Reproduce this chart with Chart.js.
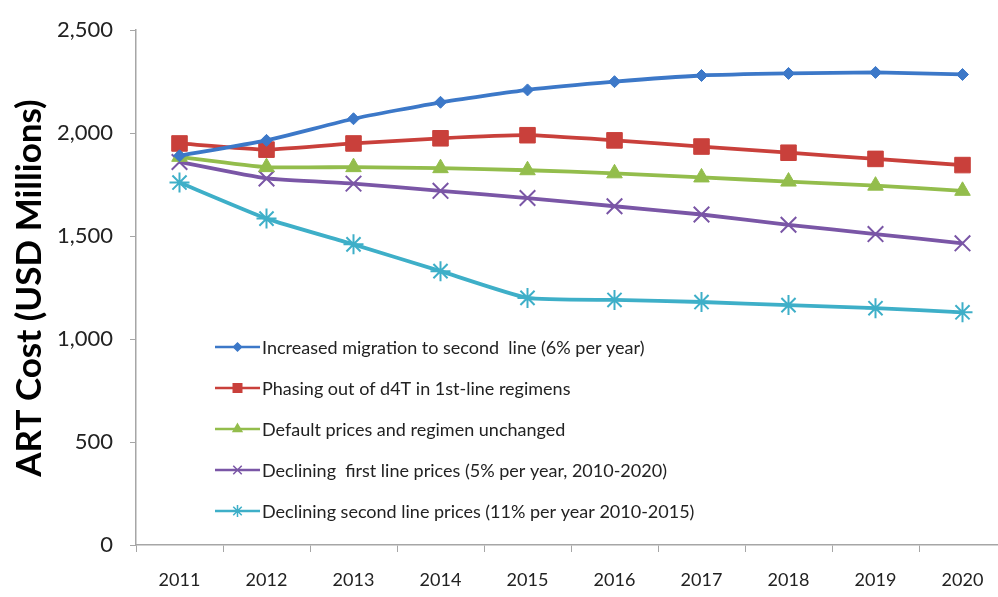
<!DOCTYPE html>
<html>
<head>
<meta charset="utf-8">
<script src="https://cdn.jsdelivr.net/npm/chart.js@4.4.1/dist/chart.umd.min.js"></script>
<style>
  html, body { margin: 0; padding: 0; background: #fff; overflow: hidden; }
  #moldura { width: 998px; height: 597px; overflow: hidden; position: relative; }
  #artChart { display: block; position: absolute; left: 0; top: 0; }
</style>
</head>
<body>
<div id="moldura"><canvas id="artChart" width="1019" height="597"></canvas></div>
<script>
// dados
const anos = ['2011', '2012', '2013', '2014', '2015', '2016', '2017', '2018', '2019', '2020'];

const migracaoSegundaLinha = [1890, 1965, 2070, 2150, 2210, 2250, 2280, 2290, 2295, 2285];
const saidaD4T = [1950, 1920, 1950, 1975, 1990, 1965, 1935, 1905, 1875, 1845];
const precosPadrao = [1885, 1835, 1835, 1830, 1820, 1805, 1785, 1765, 1745, 1720];
const declinioPrimeiraLinha = [1860, 1780, 1755, 1720, 1685, 1645, 1605, 1555, 1510, 1465];
const declinioSegundaLinha = [1760, 1585, 1460, 1330, 1200, 1190, 1180, 1165, 1150, 1130];

const rotulos = [
    'Increased migration to second  line (6% per year)',
    'Phasing out of d4T in 1st-line regimens',
    'Default prices and regimen unchanged',
    'Declining  first line prices (5% per year, 2010-2020)',
    'Declining second line prices (11% per year 2010-2015)'
];

const FONTE = "Lato, 'Liberation Sans', sans-serif";

function serie(label, data, cor, estilo, raio, raioLegenda) {
    return {
        label: label,
        data: data,
        borderColor: cor,
        backgroundColor: cor,
        pointBorderColor: cor,
        pointBackgroundColor: cor,
        borderWidth: 3.8,
        pointStyle: estilo,
        pointRadius: raio,
        pointBorderWidth: (estilo === 'crossRot' || estilo === 'star') ? 2 : 1,
        legendRadius: raioLegenda,
        tension: 0.15,
        fill: false
    };
}

// legenda desenhada dentro da área do gráfico
const legendaInterna = {
    id: 'legendaInterna',
    afterDatasetsDraw(chart) {
        const ctx = chart.ctx;
        const x0 = 215, x1 = 260, yInicio = 347, passo = 41;
        ctx.save();
        chart.data.datasets.forEach((ds, i) => {
            const y = yInicio + i * passo;
            ctx.strokeStyle = ds.borderColor;
            ctx.lineWidth = 2.5;
            ctx.beginPath();
            ctx.moveTo(x0, y);
            ctx.lineTo(x1, y);
            ctx.stroke();
            ctx.fillStyle = ds.borderColor;
            ctx.lineWidth = 1.5;
            Chart.helpers.drawPoint(ctx, {
                pointStyle: ds.pointStyle,
                radius: ds.legendRadius,
                borderWidth: 1.5,
                rotation: 0
            }, (x0 + x1) / 2, y);
            ctx.fillStyle = '#222';
            ctx.font = "18px " + FONTE;
            ctx.textBaseline = 'middle';
            ctx.textAlign = 'left';
            ctx.fillText(ds.label, x1 + 2, y + 1);
        });
        ctx.restore();
    }
};

// título do eixo y
const tituloEixo = {
    id: 'tituloEixo',
    afterDraw(chart) {
        const ctx = chart.ctx;
        ctx.save();
        ctx.translate(30, 288);
        ctx.rotate(-Math.PI / 2);
        ctx.fillStyle = '#000';
        ctx.font = "bold 35px " + FONTE;
        ctx.textAlign = 'center';
        ctx.textBaseline = 'middle';
        ctx.fillText('ART Cost (USD Millions)', 0, 0);
        ctx.restore();
    }
};

const ctx = document.getElementById('artChart').getContext('2d');
new Chart(ctx, {
    type: 'line',
    data: {
        labels: anos,
        datasets: [
            serie(rotulos[0], migracaoSegundaLinha, '#3c78c8', 'rectRot', 6, 4),
            serie(rotulos[1], saidaD4T, '#c9403b', 'rect', 11, 6),
            serie(rotulos[2], precosPadrao, '#93bd4c', 'triangle', 9, 5),
            serie(rotulos[3], declinioPrimeiraLinha, '#7a56a6', 'crossRot', 11, 6),
            serie(rotulos[4], declinioSegundaLinha, '#3eafc8', 'star', 10, 6)
        ]
    },
    options: {
        responsive: false,
        animation: false,
        layout: { padding: { left: 0, right: 2, top: 19, bottom: 0 } },
        plugins: {
            legend: { display: false },
            tooltip: { enabled: false }
        },
        scales: {
            y: {
                min: 0,
                max: 2500,
                afterFit(scale) { scale.width = 136; },
                ticks: {
                    stepSize: 500,
                    color: '#222',
                    padding: 17,
                    font: { family: FONTE, size: 22 },
                    callback: v => v.toLocaleString('en-US')
                },
                grid: {
                    display: true,
                    drawOnChartArea: false,
                    drawTicks: true,
                    tickLength: 6,
                    color: '#a6a6a6'
                },
                border: { color: '#a6a6a6', width: 1.5 }
            },
            x: {
                offset: true,
                afterFit(scale) { scale.height = 52; },
                ticks: {
                    color: '#222',
                    padding: 17,
                    font: { family: FONTE, size: 18 }
                },
                grid: {
                    display: true,
                    offset: true,
                    drawOnChartArea: false,
                    drawTicks: true,
                    tickLength: 7,
                    color: '#a6a6a6'
                },
                border: { color: '#a6a6a6', width: 1.5 }
            }
        }
    },
    plugins: [legendaInterna, tituloEixo]
});
</script>
</body>
</html>
